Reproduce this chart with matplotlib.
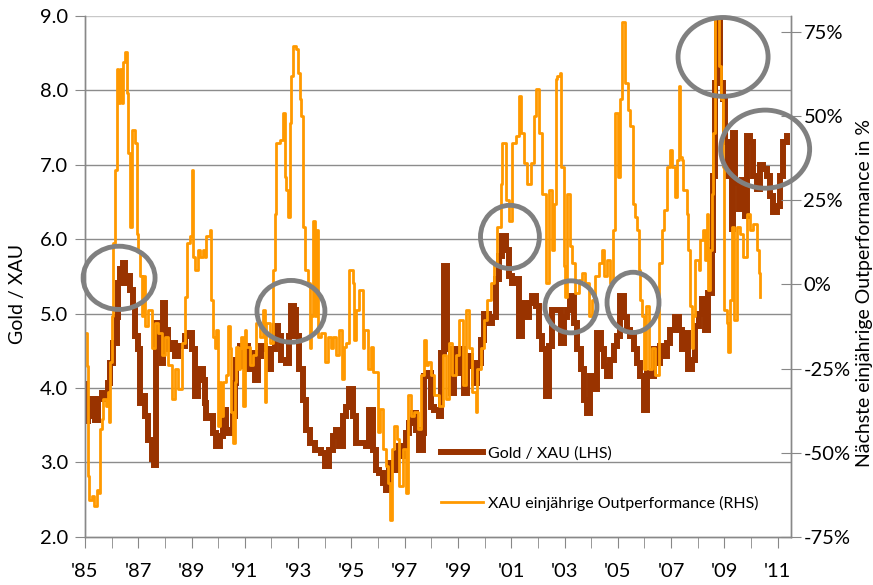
import numpy as np
import matplotlib.pyplot as plt
from matplotlib.patches import Ellipse
from matplotlib.lines import Line2D

plt.rcParams['font.family'] = ['Lato', 'DejaVu Sans']

# Gold / XAU ratio (left axis)
gold_years = [1985.00, 1985.04, 1985.13, 1985.25, 1985.38, 1985.50, 1985.63, 1985.75, 1985.88, 1985.94,
              1986.06, 1986.19, 1986.25, 1986.31, 1986.44, 1986.50, 1986.56, 1986.69, 1986.81, 1986.88,
              1987.00, 1987.06, 1987.19, 1987.25, 1987.38, 1987.50, 1987.60, 1987.66, 1987.75, 1987.88,
              1987.94, 1988.00, 1988.13, 1988.25, 1988.38, 1988.50, 1988.63, 1988.75, 1988.88, 1989.00,
              1989.13, 1989.25,
              1989.43, 1989.49, 1989.55, 1989.68, 1989.80, 1989.93, 1990.05, 1990.18, 1990.30, 1990.43,
              1990.55, 1990.62, 1990.68, 1990.80, 1990.87, 1990.99, 1991.12, 1991.24, 1991.37, 1991.49,
              1991.62, 1991.74, 1991.87, 1991.99, 1992.12, 1992.24, 1992.37, 1992.55, 1992.65, 1992.74,
              1992.83, 1992.93, 1993.05, 1993.18, 1993.30, 1993.43, 1993.62, 1993.86,
              1993.99, 1994.17, 1994.30, 1994.42, 1994.55, 1994.67, 1994.80, 1994.92, 1995.05, 1995.17,
              1995.36, 1995.55, 1995.67, 1995.80, 1995.92, 1996.05, 1996.17, 1996.30, 1996.42, 1996.55,
              1996.67, 1996.80, 1996.92, 1997.05, 1997.17, 1997.30, 1997.42, 1997.55, 1997.67, 1997.74,
              1997.86, 1997.99, 1998.11, 1998.29,
              1998.35, 1998.48, 1998.60, 1998.73, 1998.85, 1998.98, 1999.10, 1999.23, 1999.35, 1999.48,
              1999.60, 1999.73, 1999.85, 1999.98, 2000.17, 2000.29, 2000.42, 2000.54, 2000.67, 2000.79,
              2000.92, 2001.04, 2001.17, 2001.29, 2001.42, 2001.54, 2001.67, 2001.79, 2001.92, 2002.04,
              2002.17, 2002.29, 2002.42, 2002.54,
              2002.72, 2002.85, 2002.97, 2003.10, 2003.22, 2003.35, 2003.47, 2003.60, 2003.72, 2003.85,
              2003.97, 2004.10, 2004.22, 2004.35, 2004.47, 2004.60, 2004.72, 2004.85, 2004.97, 2005.10,
              2005.22, 2005.35, 2005.47, 2005.60, 2005.72, 2005.85, 2005.97, 2006.10, 2006.22, 2006.35,
              2006.47, 2006.60, 2006.72, 2006.85, 2006.97, 2007.15,
              2007.28, 2007.40, 2007.53, 2007.65, 2007.78, 2007.90, 2008.03, 2008.15, 2008.28, 2008.40,
              2008.52, 2008.59, 2008.65, 2008.71, 2008.84, 2008.96, 2009.03, 2009.15, 2009.28, 2009.34,
              2009.40, 2009.53, 2009.65, 2009.78, 2009.84, 2009.96, 2010.09, 2010.21, 2010.34, 2010.46,
              2010.59, 2010.71, 2010.84, 2010.96, 2011.09, 2011.21, 2011.34]
gold_vals = [4.05, 3.55, 3.62, 3.85, 3.57, 3.85, 3.93, 3.85, 4.07, 4.34,
             4.60, 4.96, 5.41, 5.60, 5.68, 5.41, 5.50, 5.32, 5.10, 4.70,
             4.52, 3.80, 3.89, 3.62, 3.30, 3.04, 2.97, 4.87, 4.87, 4.34,
             5.14, 4.78, 4.52, 4.60, 4.43, 4.56, 4.56, 4.70, 4.74, 4.52,
             3.89, 4.25,
             4.11, 3.80, 3.60, 3.62, 3.39, 3.22, 3.35, 3.71, 3.39, 3.44,
             3.62, 4.07, 4.38, 4.56, 4.29, 4.56, 4.25, 4.47, 4.11, 4.43,
             4.56, 4.52, 4.25, 4.52, 4.83, 4.70, 4.38, 4.34, 4.70, 5.10,
             5.05, 4.70, 4.25, 3.84, 3.44, 3.26, 3.17, 3.13,
             2.95, 3.17, 3.35, 3.44, 3.22, 3.62, 3.75, 3.98, 3.62, 3.26,
             3.26, 3.22, 3.71, 3.17, 2.90, 2.86, 2.72, 2.63, 2.99, 2.90,
             3.13, 3.22, 3.08, 3.39, 3.53, 3.66, 3.44, 3.17, 3.39, 4.16,
             4.20, 3.75, 3.71, 3.62,
             4.47, 5.64, 4.52, 3.93, 4.52, 4.20, 4.52, 3.93, 4.43, 4.29,
             4.07, 4.34, 4.65, 5.00, 4.87, 4.96, 5.46, 5.77, 6.04, 5.86,
             5.50, 5.41, 5.46, 4.70, 5.14, 4.96, 5.14, 5.23, 5.10, 4.70,
             4.52, 3.89, 4.56, 5.05,
             5.05, 4.60, 4.96, 5.05, 5.23, 4.87, 4.52, 4.25, 3.84, 3.66,
             4.16, 3.98, 4.74, 4.52, 4.29, 4.16, 4.38, 4.56, 4.70, 5.23,
             4.96, 4.78, 4.70, 4.52, 4.34, 4.16, 3.71, 4.20, 4.16, 4.52,
             4.34, 4.56, 4.43, 4.60, 4.78, 4.96,
             4.78, 4.52, 4.74, 4.25, 4.38, 4.83, 5.00, 5.19, 4.78, 5.28,
             5.86, 6.85, 8.10, 9.00, 8.10, 7.88, 7.30, 6.85, 6.13, 7.43,
             6.76, 6.40, 6.80, 6.31, 7.39, 7.30, 6.85, 6.67, 7.00, 6.94,
             6.85, 6.58, 6.36, 6.44, 6.85, 7.30, 7.39]

# XAU outperformance over the following year, in % (right axis)
perf_years = [1985.00, 1985.06, 1985.10, 1985.15, 1985.25, 1985.35, 1985.44, 1985.53, 1985.56, 1985.63,
              1985.69, 1985.78, 1985.85, 1985.90, 1985.94, 1986.00, 1986.06, 1986.13, 1986.19, 1986.25,
              1986.31, 1986.38, 1986.44, 1986.50, 1986.56, 1986.63, 1986.69, 1986.75, 1986.88, 1986.94,
              1987.00, 1987.06, 1987.13, 1987.19, 1987.25, 1987.38, 1987.50, 1987.63, 1987.75, 1987.88,
              1988.00, 1988.13, 1988.25, 1988.38, 1988.50, 1988.63, 1988.75, 1988.81, 1988.94, 1989.00,
              1989.06, 1989.13, 1989.25, 1989.31,
              1989.43, 1989.49, 1989.56, 1989.68, 1989.74, 1989.80, 1989.87, 1989.93, 1989.99, 1990.05,
              1990.12, 1990.18, 1990.30, 1990.37, 1990.43, 1990.49, 1990.55, 1990.62, 1990.68, 1990.74,
              1990.80, 1990.87, 1990.93, 1990.99, 1991.06, 1991.18, 1991.31, 1991.43, 1991.56, 1991.68,
              1991.74, 1991.81, 1991.93, 1992.06, 1992.12, 1992.18, 1992.31, 1992.43, 1992.49, 1992.56,
              1992.62, 1992.68, 1992.74, 1992.81, 1992.93, 1992.99, 1993.06, 1993.12, 1993.18, 1993.24,
              1993.37, 1993.43, 1993.49, 1993.56, 1993.62, 1993.68, 1993.74,
              1993.86, 1993.99, 1994.11, 1994.24, 1994.30, 1994.42, 1994.55, 1994.64, 1994.74, 1994.80,
              1994.92, 1995.05, 1995.11, 1995.17, 1995.30, 1995.42, 1995.49, 1995.61, 1995.74, 1995.80,
              1995.92, 1995.99, 1996.09, 1996.17, 1996.30, 1996.36, 1996.46, 1996.52, 1996.61, 1996.71,
              1996.80, 1996.92, 1997.05, 1997.14, 1997.24, 1997.36, 1997.49, 1997.61, 1997.74, 1997.80,
              1997.86, 1997.99, 1998.11,
              1998.29, 1998.42, 1998.54, 1998.67, 1998.79, 1998.92, 1999.04, 1999.17, 1999.29, 1999.42,
              1999.54, 1999.67, 1999.73, 1999.85, 1999.98, 2000.10, 2000.23, 2000.35, 2000.48, 2000.60,
              2000.67, 2000.79, 2000.92, 2001.04, 2001.17, 2001.29, 2001.35, 2001.48, 2001.60, 2001.73,
              2001.85, 2001.92, 2002.04, 2002.17, 2002.29, 2002.42, 2002.54, 2002.60, 2002.67,
              2002.72, 2002.82, 2002.87, 2002.97, 2003.03, 2003.10, 2003.20, 2003.28, 2003.41, 2003.53,
              2003.66, 2003.78, 2003.91, 2004.03, 2004.16, 2004.28, 2004.41, 2004.47, 2004.60, 2004.72,
              2004.82, 2004.91, 2004.99, 2005.07, 2005.16, 2005.28, 2005.37, 2005.47, 2005.57, 2005.66,
              2005.72, 2005.78, 2005.85, 2005.91, 2005.97, 2006.07, 2006.16, 2006.28, 2006.41, 2006.53,
              2006.66, 2006.75, 2006.85, 2006.95, 2007.03,
              2007.15, 2007.21, 2007.28, 2007.34, 2007.40, 2007.46, 2007.59, 2007.65, 2007.71, 2007.78,
              2007.84, 2007.90, 2008.03, 2008.09, 2008.21, 2008.28, 2008.34, 2008.40, 2008.46, 2008.52,
              2008.59, 2008.65, 2008.77, 2008.80, 2008.87, 2008.94, 2009.00, 2009.09, 2009.15, 2009.21,
              2009.28, 2009.37, 2009.46, 2009.59, 2009.71, 2009.84, 2009.96, 2010.09, 2010.21, 2010.30,
              2010.35]
perf_vals = [-14.5, -24.4, -57, -64, -63, -66, -61, -62, -43, -40,
             -34, -36, -32, -41, -23, -9.5, 12.3, 34, 64, 54,
             64, 54, 66, 69, 57, 39, 17, 46, 42, 15,
             10, 2.4, -9.5, 2.4, -12.5, -7.5, -19, -11.5, -14.5, -21,
             -15.5, -24, -34, -25, -31, -17.5, -3.6, 12.3, 14.3, 34,
             8.3, 4.4, 10.3, 8.3,
             10.3, 8.3, 14.3, 16.3, -4.6, -15.5, -19, -13.5, -42, -29,
             -39, -29, -27, -12.5, -19, -38, -47, -29, -18.5, -25,
             -19, -15.5, -36, -13.5, -18.5, -24, -21, -11.5, -15.5, -7.5,
             -35, -11.5, -17.5, 4.4, 21, 42, 43, 51, 32, 28,
             20, 48, 62, 71, 70, 63, 55, 50, 17, 4.4,
             0.4, -19, -9.5, 19, -9.5, 16.3, -15.5,
             -14.5, -23, -15.5, -19, -15.5, -21, -13.5, -28, -18.5, -17.5,
             4.4, 0.4, -16.5, -7.5, -1.6, -19, -13.5, -25, -18.5, -26,
             -26, -44, -37, -49, -54, -59, -70, -49, -42, -46,
             -60, -49, -62, -33, -39, -38, -43, -27, -16.5, -24,
             -23, -27, -33,
             -36, -21, -34, -17.5, -27, -21, -10.5, -30, -7.5, -19,
             -32, -38, -25, -19, -10.5, -4.6, 0.4, 6.3, 17, 30,
             42, 25, 19, 42, 44, 56, 45, 36, 30, 36,
             50, 58, 45, 27, 0.4, 28, 10.3, 24, 61,
             62, 63, 35, 5.4, -3.6, 27, 11.3, 6.3, -2.6, 1.4,
             3.4, 0.4, -9.5, -4.6, 2.4, 6.3, 10.3, 2.4, 7.3, 0.4,
             16.3, 51, 32, 55, 78, 60, 52, 47, 24, 20,
             16.3, 4.4, -4.6, -9.5, -25, -6.5, -25, -19, -27, 6.3,
             16.3, 22, 35, 40, 35,
             26, 37, 59, 38, 37, 28, 21, 10.3, -6.5, -19,
             -9.5, 7.3, 4.4, 13.3, 16.3, 7.3, 21, -1.6, 10.3, 27,
             45, 80, 80, 65, 55, 35, -7.5, -11.5, -20, -4.6,
             17, -10.5, 17, 15, 8.3, 21, 16.3, 18, 10.3, 3.4,
             -3.6]

x_ticks = [1985, 1987, 1989, 1991, 1993, 1995, 1997, 1999, 2001, 2003, 2005, 2007, 2009, 2011]
x_labels = ["'85", "'87", "'89", "'91", "'93", "'95", "'97", "'99", "'01", "'03", "'05", "'07", "'09", "'11"]
left_ticks = [2, 3, 4, 5, 6, 7, 8, 9]
right_ticks = [-75, -50, -25, 0, 25, 50, 75]
right_labels = ['-75%', '-50%', '-25%', '0%', '25%', '50%', '75%']

# highlighted spots: (year, gold level, width in years, height in gold units)
circles = [(1986.28, 5.48, 2.70, 0.85),
           (1992.73, 5.03, 2.55, 0.83),
           (2000.95, 6.03, 2.21, 0.85),
           (2003.24, 5.09, 1.95, 0.70),
           (2005.57, 5.15, 1.95, 0.81),
           (2008.95, 8.45, 3.38, 1.06),
           (2010.53, 7.21, 3.34, 1.05)]

brown = '#993300'
orange = '#FF9900'
grey = '#888888'

fig = plt.figure(figsize=(8.73, 5.85), dpi=100)
ax = fig.add_axes([85 / 873, 1 - 536.7 / 585, (791 - 85) / 873, (536.7 - 16) / 585])
ax2 = ax.twinx()

ax.plot(gold_years, gold_vals, color=brown, lw=4.3, drawstyle='steps-post', solid_joinstyle='miter')
ax2.plot(perf_years, perf_vals, color=orange, lw=2.0, drawstyle='steps-post')

ax.set_xlim(1985, 2011.5)
ax.set_ylim(2, 9)
ax2.set_ylim(-75, 79.8)

ax.set_yticks(left_ticks)
ax.set_yticklabels([f'{v:.1f}' for v in left_ticks])
ax.set_xticks(x_ticks)
ax.set_xticklabels(x_labels)
ax.set_xticks(np.arange(1985, 2012), minor=True)
ax2.set_yticks(right_ticks)
ax2.set_yticklabels(right_labels)

for y in left_ticks[1:-1]:
    ax.axhline(y, color='#8c8c8c', lw=1.0, zorder=0)
ax.axhline(9, color='#c8c8c8', lw=1.0, zorder=0)

for a in (ax, ax2):
    a.spines['top'].set_visible(False)
    for s in ('left', 'right', 'bottom'):
        a.spines[s].set_color(grey)
        a.spines[s].set_linewidth(1.0)

ax.tick_params(axis='y', direction='out', length=7, color=grey, labelsize=14.5, pad=5)
ax.tick_params(axis='x', which='both', direction='out', length=8, color=grey, labelsize=14.5, pad=11)
ax2.tick_params(axis='y', direction='inout', length=14, color=grey, labelsize=14.5, pad=2)

ax.set_ylabel('Gold / XAU', fontsize=14)
ax.yaxis.set_label_coords(-0.083, 0.467)
ax2.set_ylabel('Nächste einjährige Outperformance in %', fontsize=14)
ax2.yaxis.set_label_coords(1.092, 0.468)

for cx, cy, w, h in circles:
    ax2.add_patch(Ellipse((cx, cy), w, h, transform=ax.transData, fill=False,
                          edgecolor='#808080', lw=3.5, clip_on=False, zorder=5))

handles = [Line2D([], [], color=brown, lw=4.3), Line2D([], [], color=orange, lw=2.0)]
fig.legend(handles, ['Gold / XAU (LHS)', 'XAU einjährige Outperformance (RHS)'],
           loc='upper left', bbox_to_anchor=(441 / 873, 1 - 446 / 585), frameon=False,
           fontsize=11.5, handlelength=2.6, handletextpad=0.35, labelspacing=2.2,
           borderpad=0, borderaxespad=0)

fig.savefig('out.png', dpi=100)
